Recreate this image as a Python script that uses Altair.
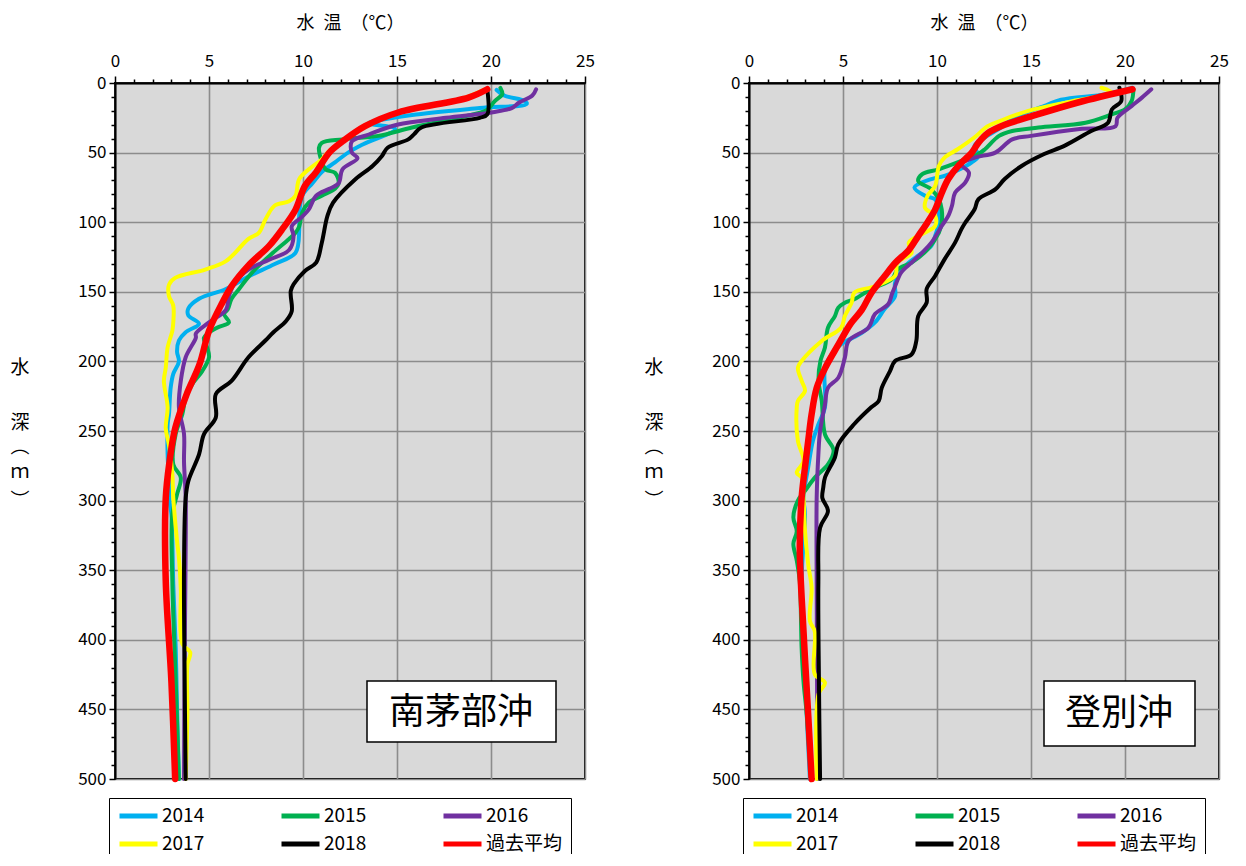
import altair as alt
import pandas as pd

FONT = "Noto Sans CJK JP"
SERIES = ["2014", "2015", "2016", "2017", "2018", "過去平均"]
COLORS = ["#00B0F0", "#00B050", "#7030A0", "#FFFF00", "#000000", "#FF0000"]
SITES = ["南茅部沖", "登別沖"]
X_TITLE = "水\u2002温\u2002（℃）"
Y_TITLE_PARTS = ["水", "深", "︵", "ｍ", "︶"]
Y_TITLE_OFFSETS = [285, 340, 364, 389, 418]   # pixel rows inside the plot (layout only)
X_TICKS = list(range(0, 26))
Y_TICKS = list(range(0, 501, 10))

# ---------------- 南茅部沖 (depth m, temperature degC) ----------------
M2014_D = [5, 9, 13, 15, 18, 23, 27, 29, 33, 44, 50, 57, 64, 72, 81, 95, 105, 122, 130, 139, 148, 155, 162, 167, 173, 179, 185, 193, 200, 209, 219, 238, 245, 267, 286, 300, 310, 360, 406, 450, 500]
M2014_T = [20.3, 20.7, 21.8, 21.9, 19.4, 15.8, 14.0, 13.5, 14.9, 13.2, 12.4, 11.7, 11.0, 10.5, 9.96, 9.8, 9.8, 9.6, 8.5, 7.1, 5.9, 4.47, 3.9, 3.9, 4.47, 3.76, 3.4, 3.3, 3.4, 3.1, 2.96, 2.87, 2.8, 2.8, 2.87, 2.9, 3.0, 3.1, 3.23, 3.3, 3.4]

M2015_D = [3.5, 8, 13, 18, 20, 32, 38, 40.5, 43, 46.5, 52, 62, 64.5, 71.6, 76, 81, 86, 93, 103, 107.5, 112, 122, 136, 148, 155, 162.6, 166, 172, 176, 183, 190, 197, 207, 216.5, 226, 238, 252, 274, 283.5, 295.5, 310, 358, 430, 500]
M2015_T = [20.5, 20.6, 20.2, 19.9, 19.7, 15.8, 14.0, 12.1, 11.0, 10.85, 10.9, 11.2, 11.7, 11.9, 11.7, 11.0, 10.3, 9.96, 9.8, 9.6, 9.26, 8.4, 7.3, 6.6, 6.2, 6.0, 5.8, 6.06, 5.4, 4.73, 4.9, 5.0, 4.64, 4.1, 3.76, 3.58, 3.23, 3.1, 3.5, 3.3, 3.05, 3.05, 3.23, 3.4]

M2016_D = [4.5, 9, 14, 18, 21, 25, 30, 37, 42, 50, 54, 62, 72, 76, 81, 91, 96, 103, 110, 120, 127, 134, 143, 153, 163, 172, 180, 183, 197, 214, 233, 252, 272, 298, 350, 420, 500]
M2016_T = [22.4, 22.2, 21.5, 21.1, 20.1, 17.6, 15.0, 13.5, 12.6, 12.6, 12.9, 12.1, 11.9, 11.4, 10.7, 10.3, 9.96, 9.4, 9.5, 9.26, 8.2, 7.1, 6.4, 6.06, 5.9, 5.0, 4.3, 4.3, 3.76, 3.5, 3.4, 3.67, 3.67, 3.76, 3.75, 3.7, 3.67]

M2017_D = [5, 11, 22, 32, 43, 50, 55, 60, 69, 81, 85, 88, 98, 107.5, 112, 128, 134, 140, 145, 153, 160, 172, 178, 190, 204.5, 214, 233, 248, 260, 281, 298, 329, 341, 363, 403, 409, 418, 453, 500]
M2017_T = [19.6, 18.5, 15.0, 13.2, 12.0, 11.3, 11.0, 10.5, 9.8, 9.6, 9.26, 8.5, 8.0, 7.66, 7.1, 5.9, 4.8, 3.2, 2.87, 2.87, 3.1, 3.1, 3.05, 2.8, 2.7, 2.6, 2.8, 2.7, 2.87, 3.05, 3.1, 3.3, 3.4, 3.5, 3.58, 4.0, 3.85, 3.85, 3.76]

M2018_D = [4.5, 22.5, 25, 32, 36.9, 40.5, 46.5, 52.4, 59.6, 69, 86, 95.5, 114.7, 129, 135, 144.6, 149.4, 153, 164, 171, 179.4, 185, 197, 214, 223.6, 240.4, 252.4, 266.8, 286, 298, 350, 420, 500]
M2018_T = [19.8, 19.8, 19.4, 16.3, 15.9, 15.6, 14.5, 14.2, 13.7, 12.8, 11.6, 11.3, 11.0, 10.7, 10.1, 9.5, 9.35, 9.35, 9.4, 9.1, 8.4, 8.0, 7.1, 6.2, 5.36, 5.36, 4.73, 4.47, 3.9, 3.76, 3.67, 3.7, 3.76]

MAVG_D = [4.5, 10.5, 21, 31, 42, 50, 64, 74, 91, 105, 117, 131, 146, 158, 178, 202, 224, 248, 272, 298, 358, 430, 500]
MAVG_T = [19.8, 18.8, 15.1, 13.3, 12.1, 11.4, 10.7, 10.1, 9.6, 8.9, 8.2, 7.1, 6.2, 5.7, 5.0, 4.5, 3.8, 3.2, 2.9, 2.7, 2.7, 3.0, 3.2]

# ---------------- 登別沖 ----------------
N2014_D = [3.4, 8, 12, 16, 25, 33, 39, 45, 52.4, 57, 66.8, 69, 75, 81, 83.6, 90.7, 100.4, 110, 117, 124, 131.5, 143.5, 153, 162.6, 172, 179.4, 187.7, 195, 204.5, 233, 245, 257, 276, 298, 310, 358, 453.5, 500]
N2014_T = [20.4, 19.0, 16.6, 15.8, 14.1, 13.3, 12.55, 12.0, 12.2, 11.85, 10.4, 9.7, 8.8, 9.36, 9.9, 10.1, 10.1, 9.9, 9.7, 9.0, 8.3, 7.77, 7.77, 7.2, 6.7, 6.0, 4.9, 4.4, 4.04, 4.04, 3.7, 3.4, 3.15, 2.9, 2.98, 2.8, 3.07, 3.24]

N2015_D = [4.5, 13, 19, 22.5, 28.5, 32, 34.5, 38, 47.6, 51, 56, 62, 65.6, 70.4, 76.4, 83.6, 90.7, 100.4, 107.5, 119.5, 129, 134, 141, 148, 155.4, 157.8, 161.4, 167.4, 175.8, 190, 199.7, 214, 228.4, 252.4, 264, 274, 283.5, 293, 300, 312, 322, 331, 343, 358, 406, 430, 453.5, 500]
N2015_T = [20.45, 20.35, 20.0, 19.3, 17.9, 15.4, 14.0, 13.3, 12.55, 12.2, 11.3, 10.1, 9.2, 9.0, 9.7, 10.1, 10.25, 10.25, 10.1, 9.5, 8.65, 7.9, 7.6, 6.5, 5.6, 5.1, 4.75, 4.57, 4.2, 4.04, 3.8, 3.7, 3.87, 4.04, 4.5, 4.2, 3.5, 2.98, 2.6, 2.36, 2.54, 2.36, 2.54, 2.7, 2.8, 2.9, 3.07, 3.3]

N2016_D = [4.5, 10.5, 16.5, 25, 31, 33, 38, 40.5, 50, 53.6, 58.4, 64.4, 71.6, 78.8, 88, 95.5, 102.7, 114.7, 122, 129, 136, 146, 151.8, 159, 166, 175.8, 185.3, 197.3, 211.7, 219, 231, 250, 266.8, 298, 360, 430, 500]
N2016_T = [21.4, 20.9, 20.36, 19.6, 19.5, 17.6, 15.0, 14.0, 13.1, 12.0, 11.3, 11.7, 11.5, 10.96, 10.8, 10.6, 10.25, 9.7, 9.2, 8.65, 8.1, 7.77, 7.6, 7.4, 6.7, 6.35, 5.3, 5.1, 4.75, 4.2, 4.04, 3.78, 3.69, 3.6, 3.6, 3.62, 3.65]

N2017_D = [3.4, 7, 13, 20, 27, 31, 39, 47.6, 53.6, 59.6, 74, 81, 89.6, 95.5, 102.7, 107.5, 114.7, 122, 129, 138.6, 146, 150.6, 157.8, 167.4, 175.8, 185.3, 199.7, 204.5, 214, 221, 228.4, 233, 257, 271.6, 280, 283.5, 298, 322, 346, 362.6, 386.5, 394, 424.8, 430.8, 439, 500]
N2017_T = [18.75, 19.3, 17.2, 14.86, 13.4, 12.7, 12.0, 11.1, 10.4, 10.1, 9.9, 9.5, 9.36, 9.9, 9.9, 9.36, 8.5, 8.65, 7.9, 7.77, 6.7, 5.6, 5.46, 5.1, 4.9, 3.87, 2.8, 2.6, 2.8, 2.98, 2.6, 2.54, 2.6, 2.9, 2.54, 2.8, 2.9, 2.98, 3.15, 3.33, 3.24, 3.5, 3.5, 4.04, 3.7, 3.6]

N2018_D = [3.4, 13, 19, 28.5, 34.5, 45, 51, 59.6, 69, 76.4, 83.6, 90.7, 100.4, 105, 114.7, 126.7, 138.6, 148, 157.8, 167.4, 185.3, 195, 199.7, 207, 219, 228.4, 233, 245, 259.6, 269, 283.5, 290.6, 298, 307.5, 319.5, 358, 430, 500]
N2018_T = [19.7, 19.8, 19.3, 19.1, 18.2, 16.8, 15.7, 14.5, 13.6, 13.1, 12.2, 12.0, 11.5, 11.3, 10.96, 10.4, 9.9, 9.45, 9.45, 9.0, 8.9, 8.65, 7.77, 7.5, 7.06, 6.9, 6.5, 5.6, 4.75, 4.57, 4.04, 3.95, 3.9, 4.2, 3.78, 3.69, 3.72, 3.78]

NAVG_D = [4.5, 14, 24, 30, 36, 43, 50, 60, 69, 79, 91, 100, 110, 120, 129, 139, 151, 163, 173, 188, 205, 219, 238, 257, 276, 298, 334, 394, 454, 500]
NAVG_T = [20.4, 17.5, 15.0, 13.6, 12.7, 12.2, 11.85, 11.1, 10.6, 10.25, 9.9, 9.5, 9.0, 8.5, 7.8, 7.2, 6.5, 6.0, 5.4, 4.75, 4.04, 3.6, 3.33, 3.15, 2.98, 2.8, 2.7, 2.9, 3.15, 3.33]

SITE_M = [(M2014_D, M2014_T), (M2015_D, M2015_T), (M2016_D, M2016_T),
          (M2017_D, M2017_T), (M2018_D, M2018_T), (MAVG_D, MAVG_T)]
SITE_N = [(N2014_D, N2014_T), (N2015_D, N2015_T), (N2016_D, N2016_T),
          (N2017_D, N2017_T), (N2018_D, N2018_T), (NAVG_D, NAVG_T)]


def frame(site, pairs):
    rows = []
    for name, (d, t) in zip(SERIES, pairs):
        if len(d) != len(t):
            raise ValueError(f"{site} {name}: {len(d)} depths vs {len(t)} temps")
        for i, (dd, tt) in enumerate(zip(d, t)):
            rows.append({"site": site, "series": name, "depth": dd, "temp": tt, "idx": i})
    return pd.DataFrame(rows)


def panel(df, label, box, textpos):
    color = alt.Color(
        "series:N",
        scale=alt.Scale(domain=SERIES, range=COLORS),
        legend=alt.Legend(
            title=None, orient="none", legendX=-6, legendY=715,
            direction="horizontal", columns=3, gridAlign="all",
            symbolType="stroke", symbolSize=1444, symbolStrokeWidth=5,
            clipHeight=20,
            labelFont=FONT, labelFontSize=19, labelColor="black", labelOffset=2,
            columnPadding=40, rowPadding=8, padding=8,
            strokeColor="black", fillColor="white",
        ),
    )
    x = alt.X(
        "temp:Q",
        scale=alt.Scale(domain=[0, 25], nice=False, zero=False),
        axis=alt.Axis(
            orient="top", title=X_TITLE, values=X_TICKS,
            labelExpr="datum.value % 5 == 0 ? datum.label : ''",
            tickSize={"condition": {"test": "datum.value % 5 == 0", "value": 7}, "value": 4},
            gridOpacity={"condition": {"test": "datum.value % 5 == 0", "value": 1}, "value": 0},
            labelPadding=6, titlePadding=20, titleFontSize=18,
        ),
    )
    y = alt.Y(
        "depth:Q",
        scale=alt.Scale(domain=[0, 500], reverse=True, nice=False),
        axis=alt.Axis(
            orient="left", title=None, values=Y_TICKS,
            labelExpr="datum.value % 50 == 0 ? datum.label : ''",
            tickSize={"condition": {"test": "datum.value % 50 == 0", "value": 6}, "value": 4},
            gridOpacity={"condition": {"test": "datum.value % 50 == 0", "value": 1}, "value": 0},
            labelPadding=3,
        ),
    )
    years = alt.Chart(df[df.series != "過去平均"]).mark_line(
        strokeWidth=4, interpolate="catmull-rom", strokeCap="round", strokeJoin="round"
    ).encode(x=x, y=y, color=color, order="idx:Q")
    avg = alt.Chart(df[df.series == "過去平均"]).mark_line(
        strokeWidth=6.5, interpolate="catmull-rom", strokeCap="round", strokeJoin="round"
    ).encode(x=x, y=y, color=color, order="idx:Q")
    lab = pd.DataFrame({"label": [label]})
    rect = alt.Chart(lab).mark_rect(fill="white", stroke="black", strokeWidth=1.5).encode(
        x=alt.value(box[0]), x2=alt.value(box[1]), y=alt.value(box[2]), y2=alt.value(box[3])
    )
    text = alt.Chart(lab).mark_text(font=FONT, fontSize=36, align="center", baseline="middle", color="black").encode(
        x=alt.value(textpos[0]), y=alt.value(textpos[1]), text="label:N"
    )
    ytitle = [
        alt.Chart(lab).mark_text(font=FONT, fontSize=19, align="center", baseline="middle", color="black").encode(
            x=alt.value(-95), y=alt.value(off), text=alt.value(part)
        )
        for part, off in zip(Y_TITLE_PARTS, Y_TITLE_OFFSETS)
    ]
    return alt.layer(years, avg, rect, text, *ytitle).properties(width=470, height=696)


left = panel(frame(SITES[0], SITE_M), SITES[0], (252, 441, 598, 659), (346, 630))
right = panel(frame(SITES[1], SITE_N), SITES[1], (295, 446, 598, 663), (370, 631))

chart = (
    alt.hconcat(left, right, spacing=47)
    .resolve_scale(color="independent")
    .resolve_legend(color="independent")
    .properties(padding={"left": 1, "top": 5, "right": 5, "bottom": -10})
    .configure_view(fill="#D9D9D9", stroke="black", strokeWidth=2)
    .configure_axis(
        labelFont=FONT, titleFont=FONT, labelFontSize=17, labelColor="black",
        titleColor="black", titleFontWeight="normal",
        domainColor="black", domainWidth=2, tickColor="black", tickWidth=1.5,
        gridColor="#8C8C8C", gridWidth=1.6, labelOverlap=False, labelFlush=False,
    )
)

chart.save("out.html", embed_options={"renderer": "svg", "actions": False})
